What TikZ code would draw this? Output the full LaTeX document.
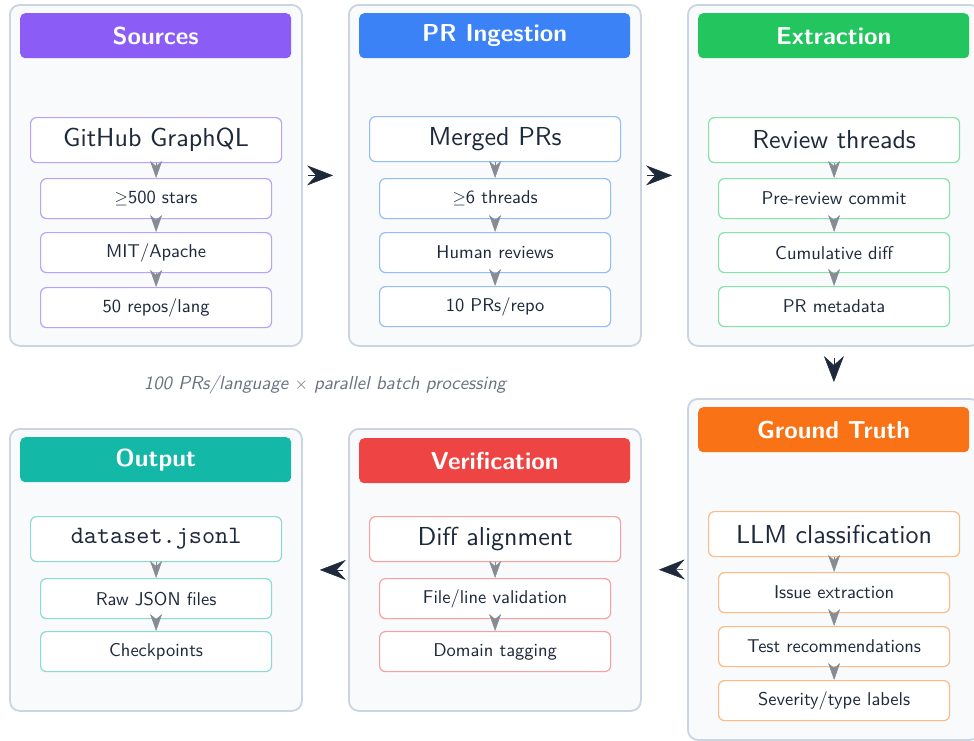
\documentclass[tikz,border=0pt]{standalone}
\usepackage{amssymb}
\usepackage{fontspec}
\setsansfont{lmsans10-regular.otf}[BoldFont=lmsans10-bold.otf, ItalicFont=lmsans10-oblique.otf, BoldItalicFont=lmsans10-boldoblique.otf]
\setmonofont{lmmono10-regular.otf}
\usetikzlibrary{arrows.meta}
\definecolor{txt}{HTML}{1E293B}
\definecolor{stagefill}{HTML}{F8FAFC}
\definecolor{stageline}{HTML}{CBD5E1}
\definecolor{arrgray}{HTML}{878C94}
\definecolor{lblgray}{HTML}{6B7280}
\definecolor{cpurple}{HTML}{8B5CF6}\definecolor{lpurple}{HTML}{B9A2FA}
\definecolor{cblue}{HTML}{3B82F6}\definecolor{lblue}{HTML}{93BDFA}
\definecolor{cgreen}{HTML}{22C55E}\definecolor{lgreen}{HTML}{86E3A8}
\definecolor{corange}{HTML}{F97316}\definecolor{lorange}{HTML}{FDBA84}
\definecolor{cred}{HTML}{EF4444}\definecolor{lred}{HTML}{F8A0A0}
\definecolor{cteal}{HTML}{14B8A6}\definecolor{lteal}{HTML}{8ADCD0}
\tikzset{
  stage/.style={draw=stageline, fill=stagefill, line width=1.8pt, rounded corners=10pt,
    minimum width=292pt, anchor=north west, inner sep=0pt},
  header/.style={fill=#1, rounded corners=5pt, minimum width=271pt, minimum height=45pt,
    anchor=north west, inner sep=0pt, text=white, font=\fontsize{24.5}{28}\selectfont\sffamily\bfseries},
  mainbox/.style={draw=#1, fill=white, line width=1.2pt, rounded corners=6pt,
    minimum width=251pt, minimum height=45pt, anchor=north west, inner sep=0pt, text=txt,
    font=\fontsize{26}{29}\selectfont\sffamily},
  subbox/.style={draw=#1, fill=white, line width=1.2pt, rounded corners=6pt,
    minimum width=231pt, minimum height=40pt, anchor=north west, inner sep=0pt, text=txt,
    font=\fontsize{18.5}{21}\selectfont\sffamily},
  subarrow/.style={draw=arrgray, line width=0.5pt, -{Stealth[length=17pt,width=12pt,inset=5pt]}, fill=arrgray},
  stagearrow/.style={draw=txt, line width=0.5pt, -{Stealth[length=26pt,width=20pt,inset=9pt]}}
}
\begin{document}
\begin{tikzpicture}[x=1pt,y=-1pt]
\useasboundingbox (0,0) rectangle (974,740);
\clip (0,0) rectangle (974,740);
% stage boxes
\node[stage, minimum height=341pt] (s1) at (9,4) {};
\node[stage, minimum height=341pt] (s2) at (348,4) {};
\node[stage, minimum height=341pt] (s3) at (687,4) {};
\node[stage, minimum height=341pt] (s4) at (687,398) {};
\node[stage, minimum height=282pt] (s5) at (348,428) {};
\node[stage, minimum height=282pt] (s6) at (9,428) {};
% headers
\node[header=cpurple] (h1) at (20,13) {Sources};
\node[header=cblue] (h2) at (359,13) {PR Ingestion};
\node[header=cgreen] (h3) at (698,13) {Extraction};
\node[header=corange] (h4) at (698,407) {Ground Truth};
\node[header=cred] (h5) at (359,438) {Verification};
\node[header=cteal] (h6) at (20,437) {Output};
% Sources
\node[mainbox=lpurple] (a0) at (30,117) {GitHub GraphQL};
\node[subbox=lpurple] (a1) at (40,178) {$\geq$500 stars};
\node[subbox=lpurple] (a2) at (40,232) {MIT/Apache};
\node[subbox=lpurple] (a3) at (40,287) {50 repos/lang};
% PR Ingestion
\node[mainbox=lblue] (b0) at (369,116) {Merged PRs};
\node[subbox=lblue] (b1) at (379,178) {$\geq$6 threads};
\node[subbox=lblue] (b2) at (379,232) {Human reviews};
\node[subbox=lblue] (b3) at (379,286) {10 PRs/repo};
% Extraction
\node[mainbox=lgreen] (c0) at (708,117) {Review threads};
\node[subbox=lgreen] (c1) at (718,178) {Pre-review commit};
\node[subbox=lgreen] (c2) at (718,232) {Cumulative diff};
\node[subbox=lgreen] (c3) at (718,286) {PR metadata};
% Ground Truth
\node[mainbox=lorange] (d0) at (708,511) {LLM classification};
\node[subbox=lorange] (d1) at (718,572) {Issue extraction};
\node[subbox=lorange] (d2) at (718,626) {Test recommendations};
\node[subbox=lorange] (d3) at (718,680) {Severity/type labels};
% Verification
\node[mainbox=lred] (e0) at (369,516) {Diff alignment};
\node[subbox=lred] (e1) at (379,578) {File/line validation};
\node[subbox=lred] (e2) at (379,631) {Domain tagging};
% Output
\node[mainbox=lteal, font=\fontsize{25}{28}\selectfont\ttfamily] (f0) at (30,516) {dataset.jsonl};
\node[subbox=lteal] (f1) at (40,578) {Raw JSON files};
\node[subbox=lteal] (f2) at (40,631) {Checkpoints};
% inner arrows
\foreach \p in {a,b,c,d}{
  \draw[subarrow] (\p0.south) -- (\p1.north);
  \draw[subarrow] (\p1.south) -- (\p2.north);
  \draw[subarrow] (\p2.south) -- (\p3.north);
}
\foreach \p in {e,f}{
  \draw[subarrow] (\p0.south) -- (\p1.north);
  \draw[subarrow] (\p1.south) -- (\p2.north);
}
% stage arrows
\draw[stagearrow, shorten <=5pt, shorten >=15pt] (s1.east) -- (s2.west);
\draw[stagearrow, shorten <=5pt, shorten >=15pt] (s2.east) -- (s3.west);
\draw[stagearrow, shorten <=11pt, shorten >=16pt] (s3.south) -- (s4.north);
\draw[stagearrow, shorten <=4pt, shorten >=17pt] (s4.west) -- (s5.east);
\draw[stagearrow, shorten <=5pt, shorten >=17pt] (s5.west) -- (s6.east);
% label
\node[text=lblgray, font=\fontsize{18.8}{21}\selectfont\sffamily\itshape] (lbl) at (325,385) {100 PRs/language $\times$ parallel batch processing};
\end{tikzpicture}
\end{document}
